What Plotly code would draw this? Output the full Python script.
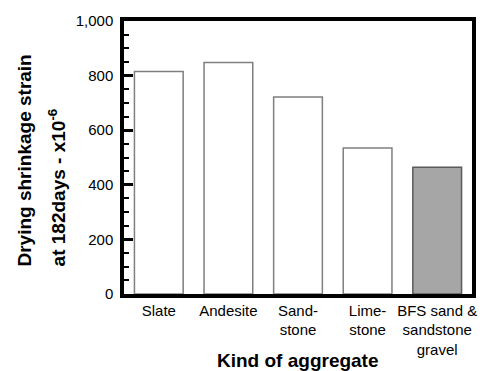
import plotly.graph_objects as go

# Drying shrinkage strain of concrete at 182 days, by kind of aggregate
aggregates = ["Slate", "Andesite", "Sand-<br>stone", "Lime-<br>stone", "BFS sand &<br>sandstone<br>gravel"]
strain_e6 = [815, 848, 722, 535, 464]
fill_colors = ["white", "white", "white", "white", "#a6a6a6"]
edge_colors = ["#7f7f7f", "#7f7f7f", "#7f7f7f", "#7f7f7f", "#5a5a5a"]

FONT = "Liberation Sans, Arial, sans-serif"

fig = go.Figure(
    go.Bar(
        x=list(range(len(aggregates))),
        y=strain_e6,
        width=0.7,
        marker=dict(color=fill_colors, line=dict(color=edge_colors, width=1.5)),
    )
)

fig.update_xaxes(
    range=[-0.5, len(aggregates) - 0.5],
    tickmode="array",
    tickvals=list(range(len(aggregates))),
    ticktext=aggregates,
    ticks="",
    showline=True,
    linecolor="black",
    linewidth=3.5,
    mirror=True,
    showgrid=False,
    zeroline=False,
    tickfont=dict(family=FONT, size=15, color="black"),
)

fig.update_yaxes(
    range=[0, 1000],
    dtick=200,
    tickformat=",",
    ticks="inside",
    ticklen=9,
    tickwidth=2.5,
    tickcolor="black",
    minor=dict(dtick=50, ticks="inside", ticklen=5, tickwidth=2, tickcolor="black"),
    showline=True,
    linecolor="black",
    linewidth=3.5,
    mirror=True,
    showgrid=False,
    zeroline=False,
    ticklabelstandoff=4,
    tickfont=dict(family=FONT, size=15, color="black"),
)

title_font = dict(family=FONT, size=19, color="black")
fig.update_layout(
    width=489,
    height=371,
    margin=dict(l=124, r=16, t=19, b=77),
    plot_bgcolor="white",
    paper_bgcolor="white",
    showlegend=False,
    annotations=[
        dict(
            text="<b>Drying shrinkage strain</b>",
            xref="paper", yref="paper",
            x=-0.2865, y=0.0945,
            xanchor="center", yanchor="bottom",
            textangle=-90, showarrow=False, font=title_font,
        ),
        dict(
            text="<b>at 182days - x10<sup>-6</sup></b>",
            xref="paper", yref="paper",
            x=-0.192, y=0.0945,
            xanchor="center", yanchor="bottom",
            textangle=-90, showarrow=False, font=title_font,
        ),
        dict(
            text="<b>Kind of aggregate</b>",
            xref="paper", yref="paper",
            x=0.5, y=-0.2436,
            xanchor="center", yanchor="middle",
            showarrow=False, font=title_font,
        ),
    ],
)

fig.write_html("out.html")
